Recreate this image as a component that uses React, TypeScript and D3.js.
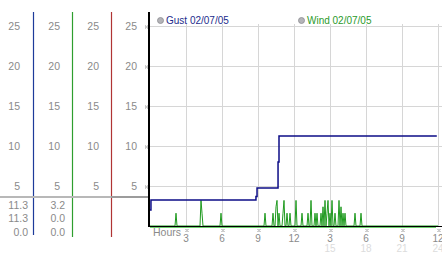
import React from "react";
import * as d3 from "d3";

const W = 442;
const H = 253;

const yTicks = [5, 10, 15, 20, 25];
const xTicks = [3, 6, 9, 12, 15, 18, 21, 24];
const xTickLabels = ["3", "6", "9", "12", "3", "6", "9", "12"];
const xTickLabels2 = ["", "", "", "", "15", "18", "21", "24"];

const gustTimes = [0, 0.08, 8.83, 8.92, 10.67, 10.75, 23.9];
const gustValues = [2.0, 3.25, 3.7, 4.75, 8.0, 11.25, 11.25];

const windTimes = [
  2.17, 4.25, 4.33, 5.92, 9.58, 10.25, 10.5, 10.58, 10.75, 11.08, 11.17, 11.42,
  11.67, 12.17, 12.67, 13.17, 13.42, 13.75, 13.92, 14.25, 14.42, 14.58, 14.75,
  14.83, 15.0, 15.17, 15.42, 15.75, 15.92, 16.08, 16.25, 17.08, 17.58,
];
const windValues = [
  1.6, 3.2, 1.6, 1.6, 1.6, 1.6, 2.4, 3.2, 1.6, 1.6, 3.2, 1.6,
  1.6, 3.2, 1.6, 1.6, 3.2, 1.6, 1.6, 1.6, 2.4, 3.2, 1.6,
  3.2, 1.6, 3.2, 1.6, 3.2, 2.4, 1.6, 1.6, 1.6, 1.6,
];

const col1Values = ["11.3", "11.3", "0.0"];
const col2Values = ["3.2", "0.0", "0.0"];

const FONT = "'Liberation Sans', Arial, sans-serif";

function Marker({ x, y }: { x: number; y: number }) {
  const dots = [
    [0, 0],
    [2, 0],
    [1, 1],
    [0, 2],
    [2, 2],
  ];
  return (
    <g>
      {dots.map(([dx, dy], i) => (
        <rect key={i} x={x - 1 + dx} y={y - 1 + dy} width={1} height={1} fill="#9a9a9a" />
      ))}
    </g>
  );
}

export default function App() {
  const x = d3.scaleLinear().domain([0, 24]).range([150, 438]);
  const y = d3.scaleLinear().domain([0, 25]).range([226, 26]);

  const gustPts = gustTimes.map((t, i) => [t, gustValues[i]] as [number, number]);
  const gustPath = d3
    .line<[number, number]>()
    .x((d) => x(d[0]))
    .y((d) => y(d[1]))
    .curve(d3.curveStepAfter)(gustPts);

  // wind sampled every 5 minutes
  const samples: number[] = new Array(24 * 12 + 1).fill(0);
  windTimes.forEach((t, i) => {
    samples[Math.round(t * 12)] = windValues[i];
  });
  const windPts = samples.map((v, i) => [i / 12, v] as [number, number]);
  const windPath = d3
    .line<[number, number]>()
    .x((d) => x(d[0]))
    .y((d) => y(d[1]))(windPts);

  const colRight = [20, 60, 99, 137];
  const colLines = [
    { x: 33.5, color: "#1d3b9a", y2: 235 },
    { x: 72.5, color: "#2e9e2e", y2: 237 },
    { x: 111.5, color: "#b03434", y2: 237 },
  ];

  return (
    <svg
      width={W}
      height={H}
      style={{ position: "absolute", left: 0, top: 0, background: "#fff" }}
      fontFamily={FONT}
    >
      <rect x={0} y={0} width={W} height={H} fill="#fff" />

      {/* grid */}
      {yTicks.map((t) => (
        <line key={"gy" + t} x1={150} x2={W} y1={Math.round(y(t)) + 0.5} y2={Math.round(y(t)) + 0.5} stroke="#d6d6d6" strokeWidth={1} />
      ))}
      {xTicks.map((t) => (
        <line key={"gx" + t} x1={Math.round(x(t)) + 0.5} x2={Math.round(x(t)) + 0.5} y1={24} y2={226} stroke="#d6d6d6" strokeWidth={1} />
      ))}

      {/* left columns */}
      {colLines.map((c, i) => (
        <line key={"cl" + i} x1={c.x} x2={c.x} y1={12} y2={c.y2} stroke={c.color} strokeWidth={1.2} />
      ))}
      <line x1={0} x2={111} y1={197} y2={197} stroke="#b8b8b8" strokeWidth={2} />
      <line x1={111} x2={148} y1={197} y2={197} stroke="#9c9c9c" strokeWidth={2} />

      {colRight.map((cx, ci) =>
        yTicks.map((t) => (
          <text key={"yl" + ci + "-" + t} x={cx} y={y(t) + 4} fontSize={10.5} fill="#8a8a8a" textAnchor="end">
            {t}
          </text>
        ))
      )}
      {yTicks.map((t) => (
        <Marker key={"ym" + t} x={146} y={Math.round(y(t)) + 0.5} />
      ))}

      {col1Values.map((v, i) => (
        <text key={"c1" + i} x={28} y={208.5 + i * 13.5} fontSize={10.5} fill="#8a8a8a" textAnchor="end">
          {v}
        </text>
      ))}
      {col2Values.map((v, i) => (
        <text key={"c2" + i} x={65} y={208.5 + i * 13.5} fontSize={10.5} fill="#8a8a8a" textAnchor="end">
          {v}
        </text>
      ))}

      {/* series */}
      <line x1={150} x2={436} y1={227.5} y2={227.5} stroke="#6ccf6c" strokeWidth={1} />
      {windPath && <path d={windPath} fill="none" stroke="#1f9a1f" strokeWidth={1} />}
      {gustPath && <path d={gustPath} fill="none" stroke="#0c0c86" strokeWidth={1.5} />}

      {/* axes */}
      <line x1={149} x2={W} y1={226.5} y2={226.5} stroke="#000" strokeWidth={1.2} />
      <line x1={149} x2={149} y1={12} y2={227} stroke="#000" strokeWidth={2} />

      {/* x labels */}
      <text x={153} y={236} fontSize={10.5} fill="#8a8a8a">
        Hours
      </text>
      {xTicks.map((t, i) => (
        <g key={"xl" + t}>
          <Marker x={Math.round(x(t)) + 0.5} y={230} />
          <text x={x(t)} y={241.5} fontSize={10} fill="#8a8a8a" textAnchor="middle">
            {xTickLabels[i]}
          </text>
          {xTickLabels2[i] && (
            <text x={x(t)} y={252} fontSize={10} fill="#dcdcdc" textAnchor="middle">
              {xTickLabels2[i]}
            </text>
          )}
        </g>
      ))}

      {/* legend */}
      <circle cx={160.5} cy={20.5} r={3} fill="#b4b4b8" stroke="#8c8c90" strokeWidth={0.8} />
      <text x={166} y={24} fontSize={10} fill="#1c2c8c">
        Gust 02/07/05
      </text>
      <circle cx={301.5} cy={20.5} r={3} fill="#b4b4b8" stroke="#8c8c90" strokeWidth={0.8} />
      <text x={307} y={24} fontSize={10} fill="#2a9a2a">
        Wind 02/07/05
      </text>
    </svg>
  );
}
